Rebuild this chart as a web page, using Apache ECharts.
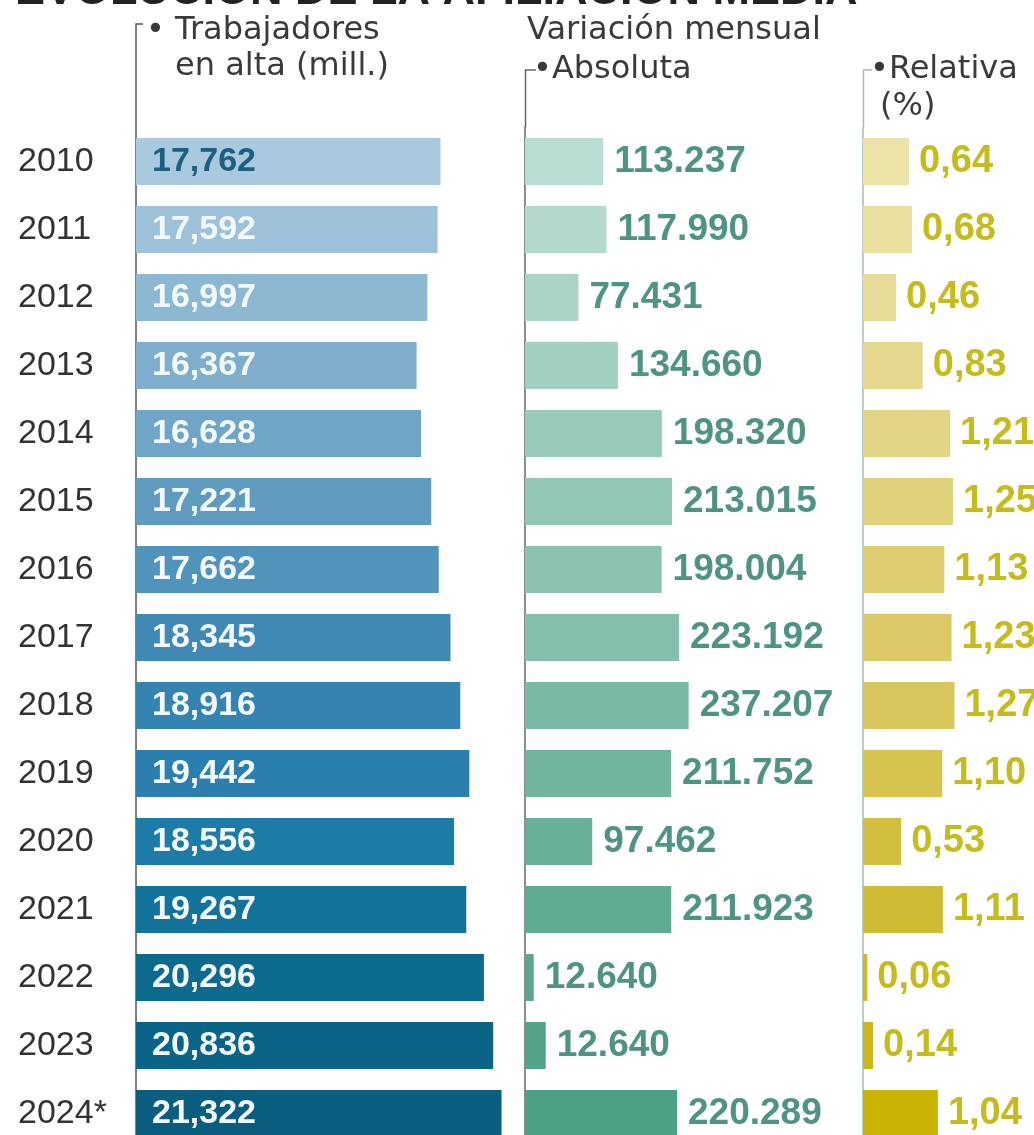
<!DOCTYPE html>
<html>
<head>
<meta charset="utf-8">
<script src="https://cdn.jsdelivr.net/npm/echarts@6/dist/echarts.min.js"></script>
<style>
  html, body { margin: 0; padding: 0; background: #ffffff; }
  #chart { width: 1034px; height: 1135px; }
</style>
</head>
<body>
<div id="chart"></div>
<script>
// ---- Data ----
const years = ['2010','2011','2012','2013','2014','2015','2016','2017','2018','2019','2020','2021','2022','2023','2024*'];
const trabajadores = [17.762,17.592,16.997,16.367,16.628,17.221,17.662,18.345,18.916,19.442,18.556,19.267,20.296,20.836,21.322];
const absoluta = [113237,117990,77431,134660,198320,213015,198004,223192,237207,211752,97462,211923,12640,30000,220289];
const absolutaEtiquetas = ['113.237','117.990','77.431','134.660','198.320','213.015','198.004','223.192','237.207','211.752','97.462','211.923','12.640','12.640','220.289'];
const relativa = [0.64,0.68,0.46,0.83,1.21,1.25,1.13,1.23,1.27,1.10,0.53,1.11,0.06,0.14,1.04];

// ---- Styles ----
const blueColors = ['#a9c9de','#9cc1d8','#8db8d2','#7eaecb','#6fa5c6','#5f9bbf','#5093bb','#4189b5','#3483b1','#2a7fae','#1c7ca7','#137299','#0d6a8f','#0b6487','#0a5d7e'];
const tealColors = ['#b8ddd2','#b3d9cd','#a9d4c6','#a1cfc0','#97cab9','#92c6b5','#8bc2b0','#84bfac','#7ab9a5','#72b59f','#68b09a','#5fab94','#5aa68f','#52a38a','#4ba085'];
const yellowColors = ['#ebe3a8','#e9e0a0','#e6dc98','#e4d88f','#e2d585','#dfd17c','#ddcd70','#dac966','#d8c65c','#d6c350','#d2bf40','#d0bc34','#ccb828','#c9b51c','#c8b400'];

const numFont = 'Liberation Sans, Arial, sans-serif';
const headFont = 'DejaVu Sans, sans-serif';

const chart = echarts.init(document.getElementById('chart'), null, { renderer: 'canvas' });

const gridTop = 127.5, gridH = 1020;

function catAxis(idx, showLabel, lineColor) {
  return {
    type: 'category', gridIndex: idx, data: years, inverse: true,
    axisTick: { show: false },
    axisLine: { show: true, lineStyle: { color: lineColor, width: 1.5 } },
    axisLabel: showLabel ? {
      show: true, align: 'left', margin: 118, color: '#333333',
      fontFamily: numFont, fontSize: 34
    } : { show: false },
    splitLine: { show: false }
  };
}

const headStyle = (t) => ({ text: t, font: '32px ' + headFont, fill: '#3a3a3a' });

const option = {
  backgroundColor: '#ffffff',
  animation: false,
  grid: [
    { left: 136, top: gridTop, width: 384, height: gridH, containLabel: false, outerBoundsMode: 'none' },
    { left: 525, top: gridTop, width: 207, height: gridH, containLabel: false, outerBoundsMode: 'none' },
    { left: 863, top: gridTop, width: 108, height: gridH, containLabel: false, outerBoundsMode: 'none' }
  ],
  xAxis: [
    { type: 'value', gridIndex: 0, min: 0, max: 22.4, show: false },
    { type: 'value', gridIndex: 1, min: 0, max: 300000, show: false },
    { type: 'value', gridIndex: 2, min: 0, max: 1.5, show: false }
  ],
  yAxis: [
    catAxis(0, true, '#555555'),
    catAxis(1, false, '#666666'),
    catAxis(2, false, '#aab4c8')
  ],
  series: [
    {
      type: 'bar', xAxisIndex: 0, yAxisIndex: 0, barWidth: 47,
      data: trabajadores.map((v, i) => ({
        value: v,
        itemStyle: { color: blueColors[i] },
        label: { color: i === 0 ? '#1d5f82' : '#f2f7f9' }
      })),
      label: {
        show: true, position: 'insideLeft', distance: 16,
        fontFamily: numFont, fontWeight: 'bold', fontSize: 34,
        formatter: p => p.value.toFixed(3).replace('.', ',')
      }
    },
    {
      type: 'bar', xAxisIndex: 1, yAxisIndex: 1, barWidth: 47,
      data: absoluta.map((v, i) => ({ value: v, itemStyle: { color: tealColors[i] } })),
      label: {
        show: true, position: 'right', distance: 11,
        color: '#4e9385', fontFamily: numFont, fontWeight: 'bold', fontSize: 37,
        formatter: p => absolutaEtiquetas[p.dataIndex]
      }
    },
    {
      type: 'bar', xAxisIndex: 2, yAxisIndex: 2, barWidth: 47,
      data: relativa.map((v, i) => ({ value: v, itemStyle: { color: yellowColors[i] } })),
      label: {
        show: true, position: 'right', distance: 10,
        color: '#c5bb1c', fontFamily: numFont, fontWeight: 'bold', fontSize: 38,
        formatter: p => p.value.toFixed(2).replace('.', ',')
      }
    }
  ],
  graphic: [
    { type: 'text', left: 15, top: -31, style: { text: 'EVOLUCIÓN DE LA AFILIACIÓN MEDIA', font: 'bold 45px ' + numFont, fill: '#222222' } },
    // header connector lines
    { type: 'polyline', shape: { points: [[143, 24], [136, 24], [136, gridTop]] }, style: { stroke: '#555555', lineWidth: 1.5, fill: null } },
    { type: 'polyline', shape: { points: [[536, 70], [525.5, 70], [525.5, gridTop]] }, style: { stroke: '#666666', lineWidth: 1.5, fill: null } },
    { type: 'polyline', shape: { points: [[872, 70], [863.5, 70], [863.5, gridTop]] }, style: { stroke: '#aab4c8', lineWidth: 1.5, fill: null } },
    // header texts
    { type: 'text', x: 146, y: 15, style: headStyle('• Trabajadores') },
    { type: 'text', x: 175, y: 51, style: headStyle('en alta (mill.)') },
    { type: 'text', x: 527, y: 15, style: headStyle('Variación mensual') },
    { type: 'text', x: 533, y: 54, style: headStyle('•Absoluta') },
    { type: 'text', x: 870, y: 54, style: headStyle('•Relativa') },
    { type: 'text', x: 880, y: 91, style: headStyle('(%)') }
  ]
};

chart.setOption(option);
</script>
</body>
</html>
